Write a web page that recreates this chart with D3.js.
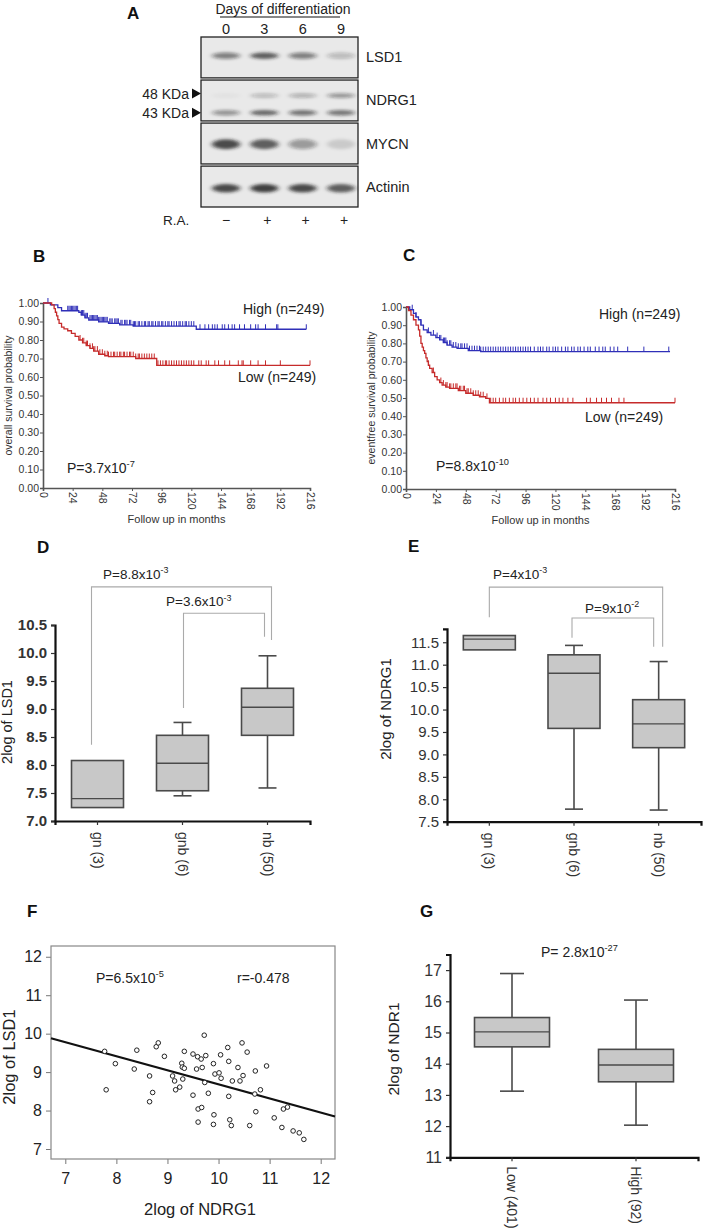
<!DOCTYPE html>
<html><head><meta charset="utf-8">
<script src="https://cdn.jsdelivr.net/npm/d3@7"></script>
<style>body{margin:0;background:#fff;} svg{display:block;font-family:"Liberation Sans",Arial,sans-serif;}</style>
</head><body><svg id="c" width="706" height="1232"></svg>
<script>
// ---------- Panel A: western blot ----------
const lanes = ["0","3","6","9"];
const raSigns = ["\u2212","+","+","+"];
const blotNames = ["LSD1","NDRG1","MYCN","Actinin"];
const lsd1Bands = [0.55,0.75,0.55,0.25];
const ndrg1Lower = [0.45,0.7,0.62,0.6];
const ndrg1Upper = [0.04,0.25,0.3,0.45];
const mycnBands = [0.85,0.75,0.42,0.15];
const actininBands = [0.85,0.9,0.85,0.75];
const kdaLabels = ["48 KDa","43 KDa"];

// ---------- Panels B, C: Kaplan-Meier ----------
const kmXTicks = [0,24,48,72,96,120,144,168,192,216];
const kmYTicks = [0.00,0.10,0.20,0.30,0.40,0.50,0.60,0.70,0.80,0.90,1.00];
const bHighSteps = [[0,1.0],[6,0.99],[12,0.975],[15,0.958],[29,0.95],[31,0.935],[34,0.92],[37,0.908],[45,0.898],[53,0.89],[62,0.882],[73,0.875],[124,0.858]];
const bHighEnd = 213;
const bHighCensor = [4,20,21,22,23,24,25,26,27,28,31,32,33,34,35,36,38,39,40,41,42,43,44,45,46,47,48,49,50,51,52,54,55,56,58,59,60,61,63,64,66,67,68,70,71,73,74,75,77,78,80,82,83,85,86,88,89,91,93,94,96,97,99,101,102,104,106,108,110,111,113,115,116,118,120,122,127,131,134,137,139,141,145,147,150,153,155,159,163,168,172,174,180,189,190,213];
const bLowSteps = [[0,1.0],[7,0.99],[9,0.97],[10,0.95],[11,0.93],[12,0.91],[13,0.89],[15,0.87],[17,0.86],[20,0.85],[23,0.836],[26,0.82],[29,0.80],[32,0.785],[35,0.77],[38,0.755],[41,0.74],[45,0.723],[50,0.715],[53,0.71],[75,0.70],[92,0.663]];
const bLowEnd = 216;
const bLowCensor = [30,32,33,35,36,38,40,41,42,44,46,48,50,52,53,55,57,58,60,62,63,65,66,68,70,71,73,75,77,78,80,82,84,86,88,90,93,95,97,99,100,102,104,106,108,110,112,114,116,118,120,122,126,128,132,134,139,142,147,151,158,161,162,168,174,180,192,216];
const cHighSteps = [[0,1.0],[3,0.985],[6,0.965],[8,0.945],[10,0.93],[12,0.90],[14,0.874],[17,0.86],[20,0.846],[24,0.832],[27,0.819],[30,0.805],[33,0.79],[37,0.78],[41,0.773],[50,0.76],[60,0.755]];
const cHighEnd = 212;
const cHighCensor = [5,8,12,18,22,25,27,28,30,31,32,33,35,36,38,40,42,44,45,47,49,51,53,55,57,59,60,62,64,66,68,70,72,74,76,78,80,82,84,86,88,90,92,94,96,98,100,103,106,108,110,113,115,118,120,122,125,128,130,133,135,138,140,143,146,148,152,155,158,160,164,167,170,178,191,211];
const cLowSteps = [[0,1.0],[2,0.98],[4,0.955],[6,0.93],[8,0.90],[10,0.874],[11,0.84],[12,0.80],[13,0.78],[14,0.76],[15,0.745],[16,0.72],[17,0.70],[18,0.68],[19,0.663],[21,0.64],[23,0.617],[25,0.60],[27,0.585],[29,0.571],[32,0.56],[35,0.553],[42,0.54],[48,0.526],[54,0.515],[59,0.507],[64,0.498],[67,0.474]];
const cLowEnd = 216;
const cLowCensor = [18,22,28,30,32,33,35,36,38,40,41,43,44,46,47,49,50,52,54,56,58,60,62,65,68,70,72,75,78,80,83,86,88,91,94,97,100,103,106,110,113,116,120,123,126,130,134,145,148,153,157,161,165,171,175,216];

// ---------- Panels D, E: box plots ----------
const deCats = ["gn (3)","gnb (6)","nb (50)"];
const dTicks = [7.0,7.5,8.0,8.5,9.0,9.5,10.0,10.5];
const dMin = [7.24,7.45,7.59];
const dQ1  = [7.24,7.54,8.53];
const dMed = [7.40,8.03,9.03];
const dQ3  = [8.08,8.53,9.37];
const dMax = [8.08,8.76,9.95];
const eTicks = [7.5,8.0,8.5,9.0,9.5,10.0,10.5,11.0,11.5];
const eMin = [11.33,7.78,7.76];
const eQ1  = [11.33,9.58,9.15];
const eMed = [11.57,10.81,9.68];
const eQ3  = [11.65,11.22,10.22];
const eMax = [11.65,11.43,11.07];

// ---------- Panel F: scatter ----------
const fTicks = [7,8,9,10,11,12];
const fX = [7.77,7.80,7.98,8.35,8.40,8.65,8.65,8.71,8.78,8.82,8.94,9.10,9.14,9.16,9.24,9.28,9.29,9.33,9.30,9.33,9.50,9.50,9.57,9.59,9.60,9.60,9.67,9.66,9.68,9.72,9.75,9.73,9.80,9.90,9.91,9.90,9.93,10.01,10.04,10.05,10.18,10.20,10.20,10.22,10.25,10.27,10.38,10.42,10.46,10.48,10.56,10.61,10.72,10.71,10.73,10.82,10.94,11.09,11.24,11.27,11.35,11.46,11.58,11.67];
const fY = [9.54,8.54,9.22,9.08,9.57,8.90,8.23,8.47,9.66,9.76,9.41,8.90,8.77,8.54,8.61,9.23,9.13,9.10,8.82,9.54,9.47,8.40,9.08,9.40,8.04,7.70,8.08,9.34,9.12,9.96,9.43,8.73,8.45,9.22,7.89,7.64,8.95,8.98,9.45,8.84,9.64,9.28,8.37,7.76,7.61,8.77,9.12,8.77,9.76,8.91,9.52,7.61,9.03,8.43,7.97,8.54,9.16,7.81,7.56,8.04,8.09,7.47,7.42,7.25];
const fSlope = -0.366, fIntercept = 12.34;

// ---------- Panel G ----------
const gCats = ["Low (401)","High (92)"];
const gTicks = [11,12,13,14,15,16,17];
const gMin = [13.12,12.03];
const gQ1  = [14.54,13.42];
const gMed = [15.02,13.96];
const gQ3  = [15.48,14.46];
const gMax = [16.89,16.04];

const svg = d3.select("#c");
svg.append("rect").attr("width",706).attr("height",1232).attr("fill","#fff");
const TXT = "#222";

function letter(t,x,y){ svg.append("text").attr("x",x).attr("y",y).attr("font-size",17).attr("font-weight","bold").attr("fill","#111").text(t); }
function supText(g,x,y,base,sup,size,anchor){
  const t = g.append("text").attr("x",x).attr("y",y).attr("font-size",size).attr("fill",TXT).attr("text-anchor",anchor||"start");
  t.append("tspan").text(base);
  t.append("tspan").attr("dy",-size*0.42).attr("font-size",size*0.66).text(sup);
  return t;
}

// ================= Panel A =================
letter("A",127,19);
{
  const g = svg.append("g");
  const defs = svg.append("defs");
  defs.append("filter").attr("id","blur").attr("x","-50%").attr("y","-100%").attr("width","200%").attr("height","300%")
    .append("feGaussianBlur").attr("stdDeviation","2.6 1.4");
  const lx = d3.scalePoint().domain(lanes).range([226,341]);
  const ry = d3.scaleBand().domain(blotNames).range([37,207]).paddingInner(0.05);
  g.append("text").attr("x",283).attr("y",14).attr("text-anchor","middle").attr("font-size",14).attr("fill",TXT).text("Days of differentiation");
  g.append("line").attr("x1",220).attr("x2",340).attr("y1",17).attr("y2",17).attr("stroke","#111").attr("stroke-width",1.2);
  g.selectAll(".ln").data(lanes).join("text").attr("x",d=>lx(d)).attr("y",34).attr("text-anchor","middle").attr("font-size",14.5).attr("fill",TXT).text(d=>d);
  g.selectAll(".row").data(blotNames).join("rect").attr("x",201).attr("y",d=>ry(d)).attr("width",157).attr("height",ry.bandwidth())
    .attr("fill","#e9e9e9").attr("stroke","#222").attr("stroke-width",1.3);
  g.selectAll(".rl").data(blotNames).join("text").attr("x",366).attr("y",d=>ry(d)+ry.bandwidth()/2+5).attr("font-size",14.5).attr("fill",TXT).text(d=>d);
  const bh = ry.bandwidth();
  const bandSets = [
    {row:"LSD1", vals:lsd1Bands, f:0.46, ry:3.2},
    {row:"NDRG1", vals:ndrg1Lower, f:0.80, ry:2.8},
    {row:"NDRG1", vals:ndrg1Upper, f:0.38, ry:2.4},
    {row:"MYCN", vals:mycnBands, f:0.52, ry:5.0},
    {row:"Actinin", vals:actininBands, f:0.54, ry:4.2}
  ];
  const bg = g.append("g").attr("filter","url(#blur)");
  bandSets.forEach(s=>{
    bg.selectAll(null).data(s.vals).join("ellipse")
      .attr("cx",(d,i)=>lx(lanes[i])).attr("cy",ry(s.row)+bh*s.f).attr("rx",14).attr("ry",s.ry)
      .attr("fill","#1a1a1a").attr("opacity",d=>d*0.9);
  });
  const ky = [ry("NDRG1")+bh*0.33, ry("NDRG1")+bh*0.80];
  g.selectAll(".kd").data(kdaLabels).join("text").attr("x",189).attr("y",(d,i)=>ky[i]+5).attr("text-anchor","end").attr("font-size",14).attr("fill",TXT).text(d=>d);
  g.selectAll(".tri").data(kdaLabels).join("path").attr("d",(d,i)=>`M192,${ky[i]-5}L201,${ky[i]}L192,${ky[i]+5}Z`).attr("fill","#111");
  g.append("text").attr("x",163).attr("y",225).attr("font-size",13.5).attr("fill",TXT).text("R.A.");
  g.selectAll(".ra").data(raSigns).join("text").attr("x",(d,i)=>lx(lanes[i])+(i===0?0:3)).attr("y",225).attr("text-anchor","middle").attr("font-size",14).attr("fill",TXT).text(d=>d);
}

// ================= Panels B, C =================
function survAt(steps,t){ let s=steps[0][1]; for(const [tt,v] of steps){ if(tt<=t) s=v; else break; } return s; }
function kmPanel(cfg){
  const g = svg.append("g");
  const x = d3.scaleLinear().domain([0,216]).range([cfg.x0,cfg.x1]);
  const y = d3.scaleLinear().domain([0,1]).range([cfg.y0,cfg.y1]);
  const ya = g.append("g").attr("transform",`translate(${cfg.x0},0)`)
    .call(d3.axisLeft(y).tickValues(kmYTicks).tickFormat(d3.format(".2f")).tickSize(3).tickPadding(1));
  const xa = g.append("g").attr("transform",`translate(0,${cfg.y0})`)
    .call(d3.axisBottom(x).tickValues(kmXTicks).tickSize(3));
  [ya,xa].forEach(a=>{ a.select(".domain").attr("stroke","#555").attr("stroke-width",1.6); a.selectAll(".tick line").attr("stroke","#555"); a.selectAll("text").attr("font-size",10.5).attr("fill","#333").attr("font-family","Liberation Sans, Arial"); });
  xa.selectAll("text").attr("y",0).attr("x",4).attr("dy","0.35em").attr("transform","rotate(90)").style("text-anchor","start");
  g.append("text").attr("transform",`translate(${cfg.ylx},${(cfg.y0+cfg.y1)/2}) rotate(-90)`).attr("text-anchor","middle").attr("font-size",10.5).attr("fill","#333").text(cfg.ylabel);
  g.append("text").attr("x",(cfg.x0+cfg.x1)/2).attr("y",cfg.y0+35).attr("text-anchor","middle").attr("font-size",11).attr("fill","#333").text("Follow up in months");
  const line = d3.line().x(d=>x(d[0])).y(d=>y(d[1])).curve(d3.curveStepAfter);
  cfg.series.forEach(s=>{
    const pts = s.steps.concat([[s.end, s.steps[s.steps.length-1][1]]]);
    g.append("path").attr("d",line(pts)).attr("fill","none").attr("stroke",s.color).attr("stroke-width",1.3);
    g.selectAll(null).data(s.censor).join("line")
      .attr("x1",d=>x(d)).attr("x2",d=>x(d)).attr("y1",d=>y(survAt(s.steps,d))).attr("y2",d=>y(survAt(s.steps,d))-5)
      .attr("stroke",s.color).attr("stroke-width",1);
  });
  cfg.labels.forEach(l=> g.append("text").attr("x",l[0]).attr("y",l[1]).attr("font-size",14).attr("fill",TXT).text(l[2]));
  supText(g,cfg.px,cfg.py,cfg.p[0],cfg.p[1],14);
}
letter("B",33,262);
kmPanel({x0:43,x1:310,y0:488,y1:303,ylx:12,ylabel:"overall survival probability",
  series:[{steps:bHighSteps,end:bHighEnd,censor:bHighCensor,color:"#2f2fb8"},{steps:bLowSteps,end:bLowEnd,censor:bLowCensor,color:"#c62b2b"}],
  labels:[[243,314,"High (n=249)"],[238,382,"Low (n=249)"]], px:67,py:473,p:["P=3.7x10","-7"]});
letter("C",403,261);
kmPanel({x0:406,x1:675,y0:489,y1:307,ylx:375,ylabel:"eventfree survival probability",
  series:[{steps:cHighSteps,end:cHighEnd,censor:cHighCensor,color:"#2f2fb8"},{steps:cLowSteps,end:cLowEnd,censor:cLowCensor,color:"#c62b2b"}],
  labels:[[599,319,"High (n=249)"],[585,422,"Low (n=249)"]], px:436,py:471,p:["P=8.8x10","-10"]});

// ================= Box plot helper =================
function boxPanel(cfg){
  const g = svg.append("g");
  const y = d3.scaleLinear().domain(cfg.yDomain).range(cfg.yRange);
  const x = d3.scaleBand().domain(cfg.cats).range(cfg.xRange);
  const ya = g.append("g").attr("transform",`translate(${cfg.xRange[0]},0)`)
    .call(d3.axisLeft(y).tickValues(cfg.ticks).tickFormat(cfg.fmt).tickSize(4).tickPadding(cfg.pad||5));
  const xa = g.append("g").attr("transform",`translate(0,${cfg.yRange[0]})`)
    .call(d3.axisBottom(x).tickSize(4));
  [ya,xa].forEach(a=>{ a.select(".domain").attr("stroke","#111").attr("stroke-width",2.2); a.selectAll(".tick line").attr("stroke","#333").attr("stroke-width",1.2); });
  ya.selectAll("text").attr("font-size",cfg.tfs).attr("font-weight",cfg.bold?"bold":"normal").attr("fill","#333").attr("font-family","Liberation Sans, Arial");
  xa.selectAll("text").attr("y",0).attr("x",cfg.catOff).attr("dy","0.35em").attr("transform","rotate(90)").style("text-anchor","start")
    .attr("font-size",cfg.cfs).attr("fill","#333").attr("font-family","Liberation Sans, Arial");
  g.append("text").attr("transform",`translate(${cfg.ylx},${cfg.yly}) rotate(-90)`).attr("text-anchor","middle").attr("font-size",cfg.lfs).attr("fill",TXT).text(cfg.ylabel);
  const w = cfg.bw, cap = cfg.cap, st = "#4a4a4a";
  cfg.cats.forEach((c,i)=>{
    const cx = x(c)+x.bandwidth()/2;
    g.append("line").attr("x1",cx).attr("x2",cx).attr("y1",y(cfg.max[i])).attr("y2",y(cfg.q3[i])).attr("stroke",st).attr("stroke-width",1.6);
    g.append("line").attr("x1",cx).attr("x2",cx).attr("y1",y(cfg.q1[i])).attr("y2",y(cfg.min[i])).attr("stroke",st).attr("stroke-width",1.6);
    if (cfg.max[i]>cfg.q3[i]) g.append("line").attr("x1",cx-cap/2).attr("x2",cx+cap/2).attr("y1",y(cfg.max[i])).attr("y2",y(cfg.max[i])).attr("stroke",st).attr("stroke-width",1.6);
    if (cfg.min[i]<cfg.q1[i]) g.append("line").attr("x1",cx-cap/2).attr("x2",cx+cap/2).attr("y1",y(cfg.min[i])).attr("y2",y(cfg.min[i])).attr("stroke",st).attr("stroke-width",1.6);
    g.append("rect").attr("x",cx-w/2).attr("y",y(cfg.q3[i])).attr("width",w).attr("height",y(cfg.q1[i])-y(cfg.q3[i])).attr("fill","#c8c8c8").attr("stroke",st).attr("stroke-width",1.6);
    g.append("line").attr("x1",cx-w/2).attr("x2",cx+w/2).attr("y1",y(cfg.med[i])).attr("y2",y(cfg.med[i])).attr("stroke",st).attr("stroke-width",1.4);
  });
  (cfg.brackets||[]).forEach(b=>{
    const xl = x(cfg.cats[b.a])+x.bandwidth()/2+b.dxa, xr = x(cfg.cats[b.b])+x.bandwidth()/2+b.dxb;
    g.append("path").attr("d",`M${xl},${y(b.la)}V${y(b.top)}H${xr}V${y(b.lb)}`).attr("fill","none").attr("stroke","#aaa").attr("stroke-width",1.1);
    supText(g,b.tx,y(b.top)-b.tdy,b.p[0],b.p[1],13.5);
  });
  return {g,x,y};
}
letter("D",37,553);
boxPanel({cats:deCats,yDomain:[7,10.5],yRange:[821,625],xRange:[55,310],ticks:dTicks,fmt:d3.format(".1f"),tfs:15,bold:true,pad:4,
  cfs:14,catOff:11,ylx:12,yly:722,lfs:14.5,ylabel:"2log of LSD1",bw:52,cap:18,
  min:dMin,q1:dQ1,med:dMed,q3:dQ3,max:dMax,
  brackets:[{a:0,b:2,dxa:-6,dxb:4,top:11.18,la:8.36,lb:10.23,tx:103,tdy:8,p:["P=8.8x10","-3"]},
            {a:1,b:2,dxa:1,dxb:-3,top:10.71,la:9.02,lb:10.29,tx:166,tdy:7,p:["P=3.6x10","-3"]}]});
letter("E",408,552);
boxPanel({cats:deCats,yDomain:[7.5,11.8],yRange:[821.7,628.8],xRange:[447,701],ticks:eTicks,fmt:d3.format(".1f"),tfs:15,bold:false,pad:4,
  cfs:14,catOff:11,ylx:391,yly:709,lfs:15,ylabel:"2log of NDRG1",bw:52,cap:18,
  min:eMin,q1:eQ1,med:eMed,q3:eQ3,max:eMax,
  brackets:[{a:0,b:2,dxa:0,dxb:4,top:12.73,la:12.06,lb:11.40,tx:493,tdy:8,p:["P=4x10","-3"]},
            {a:1,b:2,dxa:-2,dxb:-5,top:12.04,la:11.6,lb:11.40,tx:585,tdy:5,p:["P=9x10","-2"]}]});

// ================= Panel F =================
letter("F",27,917);
{
  const g = svg.append("g");
  const x = d3.scaleLinear().domain([6.72,12.28]).range([51,335]);
  const y = d3.scaleLinear().domain([6.74,12.28]).range([1159,946]);
  const xa = g.append("g").attr("transform","translate(0,1159)").call(d3.axisBottom(x).tickValues(fTicks).tickFormat(d3.format("d")).tickSize(5).tickPadding(9));
  const ya = g.append("g").attr("transform","translate(51,0)").call(d3.axisLeft(y).tickValues(fTicks).tickFormat(d3.format("d")).tickSize(5).tickPadding(4));
  [xa,ya].forEach(a=>{ a.select(".domain").remove(); a.selectAll(".tick line").attr("stroke","#777"); a.selectAll("text").attr("font-size",16).attr("fill","#222").attr("font-family","Liberation Sans, Arial"); });
  g.append("rect").attr("x",51).attr("y",946).attr("width",284).attr("height",213).attr("fill","none").attr("stroke","#888").attr("stroke-width",1.2);
  g.append("line").attr("x1",x(6.72)).attr("x2",x(12.28)).attr("y1",y(fIntercept+fSlope*6.72)).attr("y2",y(fIntercept+fSlope*12.28)).attr("stroke","#111").attr("stroke-width",2.2);
  g.selectAll("circle").data(fX).join("circle").attr("cx",d=>x(d)).attr("cy",(d,i)=>y(fY[i])).attr("r",2.3).attr("fill","#fff").attr("stroke","#222").attr("stroke-width",1);
  g.append("text").attr("transform","translate(15,1057) rotate(-90)").attr("text-anchor","middle").attr("font-size",16.5).attr("fill",TXT).text("2log of LSD1");
  g.append("text").attr("x",200).attr("y",1215).attr("text-anchor","middle").attr("font-size",16.5).attr("fill",TXT).text("2log of NDRG1");
  supText(g,96,983,"P=6.5x10","-5",14);
  g.append("text").attr("x",237).attr("y",983).attr("font-size",14).attr("fill",TXT).text("r=-0.478");
}

// ================= Panel G =================
letter("G",420,917);
{
  const r = boxPanel({cats:gCats,yDomain:[11,17.5],yRange:[1157.3,954.5],xRange:[450,698],ticks:gTicks,fmt:d3.format("d"),tfs:16,bold:false,pad:4,
    cfs:14,catOff:9,ylx:399,yly:1049,lfs:15.5,ylabel:"2log of NDR1",bw:75,cap:24,
    min:gMin,q1:gQ1,med:gMed,q3:gQ3,max:gMax});
  supText(r.g,541,957,"P= 2.8x10","-27",14);
}
</script></body></html>
